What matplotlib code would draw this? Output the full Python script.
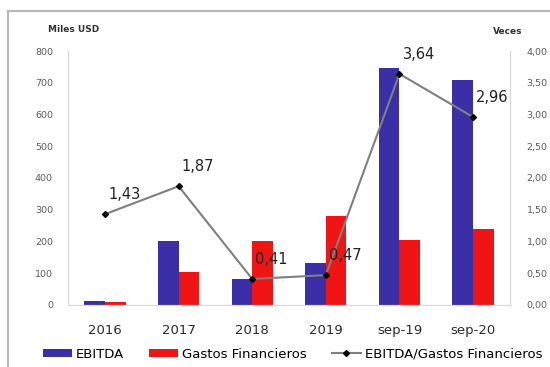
import numpy as np
import matplotlib
matplotlib.use("Agg")
import matplotlib.pyplot as plt
from matplotlib.lines import Line2D
from matplotlib.ticker import FuncFormatter

periodos = ["2016", "2017", "2018", "2019", "sep-19", "sep-20"]
ebitda = [14, 200, 82, 131, 748, 710]
gastos_fin = [10, 105, 202, 281, 205, 239]
cobertura = [1.43, 1.87, 0.41, 0.47, 3.64, 2.96]

AZUL = "#3a2fa6"
ROJO = "#f01414"
GRIS = "#7f7f7f"
TEXTO = "#595959"

fig = plt.figure(figsize=(5.5, 3.67), dpi=100)
ax = fig.add_axes([0.124, 0.169, 0.803, 0.692])
ax2 = ax.twinx()

x = np.arange(len(periodos))
w = 0.28
ax.bar(x - w / 2, ebitda, w, color=AZUL, label="EBITDA", zorder=2)
ax.bar(x + w / 2, gastos_fin, w, color=ROJO, label="Gastos Financieros", zorder=2)

ax.set_xlim(-0.5, len(periodos) - 0.5)
ax.set_ylim(0, 800)
ax.set_yticks(range(0, 801, 100))
ax.set_xticks(x)
ax.set_xticklabels(periodos, fontsize=9.5, color="#2a2a2a")
ax.tick_params(axis="x", length=0, pad=14)
ax.tick_params(axis="y", length=0, pad=11, labelsize=6.8, labelcolor=TEXTO)

ax2.plot(x, cobertura, color=GRIS, lw=1.5, marker="D", markersize=3,
         markerfacecolor="black", markeredgecolor="black",
         label="EBITDA/Gastos Financieros", zorder=3)
ax2.set_ylim(0, 4)
ax2.set_yticks(np.arange(0, 4.01, 0.5))
ax2.yaxis.set_major_formatter(FuncFormatter(lambda v, p: f"{v:.2f}".replace(".", ",")))
ax2.tick_params(axis="y", length=0, pad=12, labelsize=6.8, labelcolor=TEXTO)

# etiquetas de la razón, un poco arriba y a la derecha de cada punto
for xi, v in zip(x, cobertura):
    ax2.annotate(f"{v:.2f}".replace(".", ","), (xi, v), xytext=(14, 14),
                 textcoords="offset points", ha="center", va="center",
                 fontsize=10.5, color="#222222")

for a in (ax, ax2):
    a.spines["top"].set_visible(False)
    for s in ("left", "right", "bottom"):
        a.spines[s].set_color("#d9d9d9")
        a.spines[s].set_linewidth(0.8)

fig.text(48 / 550, 1 - 30 / 367, "Miles USD", fontsize=6.5, fontweight="bold",
         color="#333333", ha="left", va="center")
fig.text(508 / 550, 1 - 32 / 367, "Veces", fontsize=6.5, fontweight="bold",
         color="#333333", ha="center", va="center")

h1, l1 = ax.get_legend_handles_labels()
h2, l2 = ax2.get_legend_handles_labels()
fig.legend(h1 + h2, l1 + l2, loc="center", bbox_to_anchor=(0.532, 0.035),
           ncol=3, frameon=False, fontsize=9.5, handlelength=2.2,
           handleheight=0.6, columnspacing=1.9, handletextpad=0.3)

# marco gris del recuadro
fig.add_artist(Line2D([8 / 550, 1], [1 - 11 / 367] * 2, transform=fig.transFigure,
                      color="#b8b8b8", lw=1.5))
fig.add_artist(Line2D([8 / 550] * 2, [0, 1 - 11 / 367], transform=fig.transFigure,
                      color="#b8b8b8", lw=1.5))

fig.savefig("out.png", dpi=100)
